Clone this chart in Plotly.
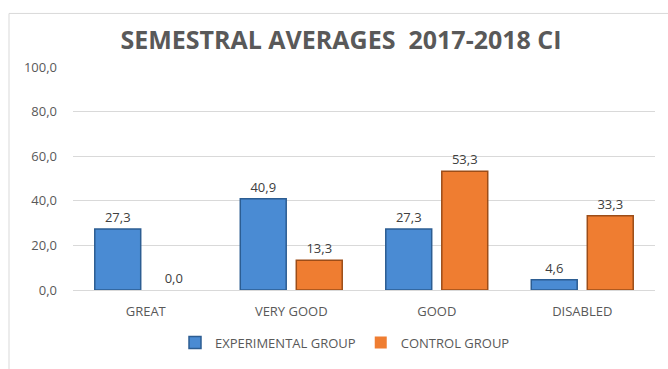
import plotly.graph_objects as go

categories = ["GREAT", "VERY GOOD", "GOOD", "DISABLED"]
experimental = [27.3, 40.9, 27.3, 4.6]
control = [0.0, 13.3, 53.3, 33.3]
series_names = ["EXPERIMENTAL GROUP", "CONTROL GROUP"]
title_text = "SEMESTRAL AVERAGES  2017-2018 CI"

W, H = 668, 369
L, R, T, B = 73, 13, 67, 73
pw, ph = W - L - R, H - T - B

def px2paper_x(x):
    return (x - L) / pw

def px2paper_y(y):
    return (H - B - y) / ph

font_fam = "Open Sans, Noto Sans, sans-serif"
txt_col = "#595959"

def lw(vals):
    return [0 if v == 0 else 1.5 for v in vals]

fig = go.Figure()
fig.add_trace(go.Bar(
    x=categories, y=experimental, name=series_names[0],
    marker=dict(color="#4a8bd3", line=dict(color="#2c5d92", width=lw(experimental))),
    text=[f"{v:.1f}".replace(".", ",") for v in experimental],
    textposition="outside", cliponaxis=False,
    textfont=dict(size=13, color="#404040", family=font_fam),
))
fig.add_trace(go.Bar(
    x=categories, y=control, name=series_names[1],
    marker=dict(color="#ef7d31", line=dict(color="#9c4d18", width=lw(control))),
    text=[f"{v:.1f}".replace(".", ",") for v in control],
    textposition="outside", cliponaxis=False,
    textfont=dict(size=13, color="#404040", family=font_fam),
))

fig.update_layout(
    width=W, height=H,
    margin=dict(l=L, r=R, t=T, b=B, pad=0),
    paper_bgcolor="white", plot_bgcolor="white",
    separators=",.",
    barmode="group", bargap=0.23, bargroupgap=0.18,
    font=dict(family=font_fam, color=txt_col, size=12),
    title=dict(text=f"<b>{title_text}</b>", x=px2paper_x(341), xref="paper",
               xanchor="center", y=1 - 40 / H, yanchor="middle",
               font=dict(size=25, color=txt_col, family=font_fam)),
    xaxis=dict(showgrid=False, showline=True, linecolor="#d9d9d9", linewidth=1,
               ticks="", ticklabelstandoff=9, tickfont=dict(size=13, color=txt_col)),
    yaxis=dict(range=[0, 100], dtick=20, tickformat=".1f", showgrid=True,
               gridcolor="#d9d9d9", gridwidth=1, zeroline=False, showline=False,
               ticks="", ticklabelstandoff=15,
               tickfont=dict(size=13, color=txt_col)),
    legend=dict(orientation="h", x=px2paper_x(345), xanchor="center",
                y=px2paper_y(350), yanchor="middle",
                font=dict(size=13, color=txt_col), itemwidth=30,
                traceorder="normal"),
    shapes=[dict(type="rect", xref="paper", yref="paper",
                 x0=px2paper_x(9), x1=px2paper_x(720),
                 y0=px2paper_y(420), y1=px2paper_y(12),
                 line=dict(color="#d9d9d9", width=1), fillcolor="rgba(0,0,0,0)",
                 layer="below")],
)

fig.write_html("out.html")
